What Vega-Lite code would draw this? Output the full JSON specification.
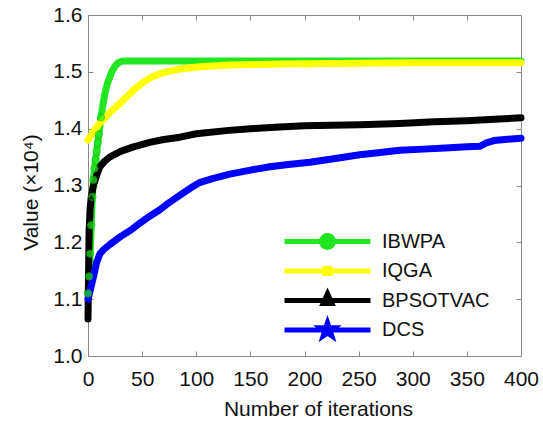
{
  "$schema": "https://vega.github.io/schema/vega-lite/v6.json",
  "width": 433,
  "height": 341,
  "autosize": {"type": "none"},
  "padding": {"left": 88, "top": 15, "right": 22, "bottom": 65},
  "background": "white",
  "config": {
    "font": "Liberation Sans",
    "view": {"stroke": "#8a8a8a", "strokeWidth": 1},
    "axis": {
      "labelFont": "Liberation Sans",
      "labelFontSize": 21,
      "labelColor": "#111",
      "titleFont": "Liberation Sans",
      "titleFontSize": 21,
      "titleFontWeight": "normal",
      "titleColor": "#111",
      "domainColor": "#8a8a8a",
      "tickColor": "#8a8a8a",
      "tickSize": -5,
      "grid": false
    },
    "legend": {
      "orient": "none",
      "legendX": 227,
      "legendY": 214,
      "padding": 0,
      "gridAlign": "all",
      "symbolSize": 400,
      "symbolStrokeWidth": 5,
      "labelFont": "Liberation Sans",
      "labelFontSize": 20,
      "labelColor": "#111",
      "labelOffset": 42,
      "rowPadding": -4.5
    }
  },
  "data": {
    "values": [
      {"s": "IBWPA", "it": 0, "v": 1.11}, {"s": "IBWPA", "it": 1, "v": 1.14}, {"s": "IBWPA", "it": 2, "v": 1.18}, {"s": "IBWPA", "it": 3, "v": 1.23}, {"s": "IBWPA", "it": 4, "v": 1.28}, {"s": "IBWPA", "it": 5, "v": 1.31}, {"s": "IBWPA", "it": 6, "v": 1.33}, {"s": "IBWPA", "it": 7, "v": 1.345}, {"s": "IBWPA", "it": 8, "v": 1.36}, {"s": "IBWPA", "it": 9, "v": 1.375}, {"s": "IBWPA", "it": 10, "v": 1.39}, {"s": "IBWPA", "it": 12, "v": 1.42}, {"s": "IBWPA", "it": 14, "v": 1.445}, {"s": "IBWPA", "it": 16, "v": 1.465}, {"s": "IBWPA", "it": 18, "v": 1.48}, {"s": "IBWPA", "it": 20, "v": 1.49}, {"s": "IBWPA", "it": 22, "v": 1.5}, {"s": "IBWPA", "it": 25, "v": 1.51}, {"s": "IBWPA", "it": 28, "v": 1.516}, {"s": "IBWPA", "it": 32, "v": 1.519}, {"s": "IBWPA", "it": 50, "v": 1.519}, {"s": "IBWPA", "it": 100, "v": 1.519}, {"s": "IBWPA", "it": 200, "v": 1.519}, {"s": "IBWPA", "it": 300, "v": 1.519}, {"s": "IBWPA", "it": 400, "v": 1.519},
      {"s": "IQGA", "it": 0, "v": 1.38}, {"s": "IQGA", "it": 5, "v": 1.395}, {"s": "IQGA", "it": 11, "v": 1.41}, {"s": "IQGA", "it": 15, "v": 1.417}, {"s": "IQGA", "it": 20, "v": 1.428}, {"s": "IQGA", "it": 27, "v": 1.44}, {"s": "IQGA", "it": 35, "v": 1.455}, {"s": "IQGA", "it": 42, "v": 1.468}, {"s": "IQGA", "it": 50, "v": 1.48}, {"s": "IQGA", "it": 57, "v": 1.489}, {"s": "IQGA", "it": 65, "v": 1.496}, {"s": "IQGA", "it": 73, "v": 1.5}, {"s": "IQGA", "it": 85, "v": 1.505}, {"s": "IQGA", "it": 103, "v": 1.509}, {"s": "IQGA", "it": 130, "v": 1.512}, {"s": "IQGA", "it": 180, "v": 1.514}, {"s": "IQGA", "it": 250, "v": 1.515}, {"s": "IQGA", "it": 300, "v": 1.516}, {"s": "IQGA", "it": 400, "v": 1.516},
      {"s": "BPSOTVAC", "it": 0, "v": 1.065}, {"s": "BPSOTVAC", "it": 1, "v": 1.22}, {"s": "BPSOTVAC", "it": 2, "v": 1.26}, {"s": "BPSOTVAC", "it": 3, "v": 1.28}, {"s": "BPSOTVAC", "it": 5, "v": 1.3}, {"s": "BPSOTVAC", "it": 8, "v": 1.318}, {"s": "BPSOTVAC", "it": 11, "v": 1.333}, {"s": "BPSOTVAC", "it": 15, "v": 1.342}, {"s": "BPSOTVAC", "it": 20, "v": 1.35}, {"s": "BPSOTVAC", "it": 30, "v": 1.36}, {"s": "BPSOTVAC", "it": 42, "v": 1.368}, {"s": "BPSOTVAC", "it": 57, "v": 1.376}, {"s": "BPSOTVAC", "it": 70, "v": 1.381}, {"s": "BPSOTVAC", "it": 85, "v": 1.385}, {"s": "BPSOTVAC", "it": 100, "v": 1.391}, {"s": "BPSOTVAC", "it": 130, "v": 1.397}, {"s": "BPSOTVAC", "it": 150, "v": 1.4}, {"s": "BPSOTVAC", "it": 177, "v": 1.403}, {"s": "BPSOTVAC", "it": 200, "v": 1.405}, {"s": "BPSOTVAC", "it": 251, "v": 1.407}, {"s": "BPSOTVAC", "it": 288, "v": 1.409}, {"s": "BPSOTVAC", "it": 320, "v": 1.412}, {"s": "BPSOTVAC", "it": 350, "v": 1.414}, {"s": "BPSOTVAC", "it": 380, "v": 1.417}, {"s": "BPSOTVAC", "it": 400, "v": 1.419},
      {"s": "DCS", "it": 0, "v": 1.1}, {"s": "DCS", "it": 2, "v": 1.115}, {"s": "DCS", "it": 5, "v": 1.139}, {"s": "DCS", "it": 8, "v": 1.165}, {"s": "DCS", "it": 11, "v": 1.18}, {"s": "DCS", "it": 15, "v": 1.188}, {"s": "DCS", "it": 20, "v": 1.196}, {"s": "DCS", "it": 30, "v": 1.21}, {"s": "DCS", "it": 40, "v": 1.222}, {"s": "DCS", "it": 48, "v": 1.234}, {"s": "DCS", "it": 57, "v": 1.246}, {"s": "DCS", "it": 66, "v": 1.257}, {"s": "DCS", "it": 75, "v": 1.27}, {"s": "DCS", "it": 85, "v": 1.283}, {"s": "DCS", "it": 95, "v": 1.296}, {"s": "DCS", "it": 103, "v": 1.305}, {"s": "DCS", "it": 115, "v": 1.312}, {"s": "DCS", "it": 131, "v": 1.32}, {"s": "DCS", "it": 150, "v": 1.327}, {"s": "DCS", "it": 168, "v": 1.333}, {"s": "DCS", "it": 185, "v": 1.337}, {"s": "DCS", "it": 205, "v": 1.341}, {"s": "DCS", "it": 230, "v": 1.348}, {"s": "DCS", "it": 251, "v": 1.354}, {"s": "DCS", "it": 270, "v": 1.358}, {"s": "DCS", "it": 288, "v": 1.362}, {"s": "DCS", "it": 310, "v": 1.364}, {"s": "DCS", "it": 330, "v": 1.366}, {"s": "DCS", "it": 350, "v": 1.368}, {"s": "DCS", "it": 362, "v": 1.369}, {"s": "DCS", "it": 368, "v": 1.375}, {"s": "DCS", "it": 375, "v": 1.379}, {"s": "DCS", "it": 385, "v": 1.381}, {"s": "DCS", "it": 400, "v": 1.383}
    ]
  },
  "resolve": {"axis": {"x": "independent", "y": "independent"}},
  "layer": [
    {
      "mark": {"type": "line", "strokeWidth": 7, "strokeJoin": "round", "strokeCap": "round"},
      "encoding": {
        "x": {"field": "it", "type": "quantitative", "scale": {"domain": [0, 400], "nice": false},
              "axis": {"values": [0, 50, 100, 150, 200, 250, 300, 350, 400], "title": "Number of iterations", "labelPadding": 17, "titleX": 230, "titleY": 59, "titleBaseline": "alphabetic", "titleAnchor": "middle", "labelFlush": false}},
        "y": {"field": "v", "type": "quantitative", "scale": {"domain": [1.0, 1.6], "nice": false, "zero": false},
              "axis": {"values": [1.0, 1.1, 1.2, 1.3, 1.4, 1.5, 1.6], "format": ".1f", "title": "Value (×10⁴)", "labelPadding": 11, "titleX": -51, "titleY": 177, "titleBaseline": "alphabetic", "titleAnchor": "middle", "labelFlush": false}},
        "color": {"field": "s", "type": "nominal",
                  "scale": {"domain": ["IBWPA", "IQGA", "BPSOTVAC", "DCS"], "range": ["#22e622", "#ffff00", "#000000", "#0000ff"]},
                  "legend": {
                    "title": null,
                    "encode": {"symbols": {"update": {
                      "shape": {"signal": "datum.value === 'IBWPA' ? 'M-4.3,0H4.3M-0.6,0A0.6,0.6 0 1,0 0.6,0A0.6,0.6 0 1,0 -0.6,0Z' : datum.value === 'IQGA' ? 'M-4.3,0H4.3M-0.25,-0.25H0.25V0.25H-0.25Z' : datum.value === 'BPSOTVAC' ? 'M-4.3,0H4.3M0,-0.7L0.45,0.3H-0.45Z' : 'M-4.3,0H4.3M0,-0.75L0.176,-0.243L0.713,-0.232L0.285,0.093L0.441,0.607L0,0.3L-0.441,0.607L-0.285,0.093L-0.713,-0.232L-0.176,-0.243Z'"},
                      "stroke": {"scale": "color", "field": "value"},
                      "fill": {"scale": "color", "field": "value"},
                      "strokeWidth": {"value": 5},
                      "opacity": {"value": 1},
                      "size": {"value": 400}
                    }}}
                  }},
        "order": {"field": "it", "type": "quantitative"}
      }
    },
    {
      "transform": [{"filter": "datum.s === 'IBWPA' && datum.it <= 12"}],
      "mark": {"type": "point", "shape": "circle", "filled": true, "size": 55, "color": "#22e622", "stroke": "#18b818", "strokeWidth": 1},
      "encoding": {
        "x": {"field": "it", "type": "quantitative", "axis": null},
        "y": {"field": "v", "type": "quantitative", "axis": null}
      }
    },
    {
      "transform": [{"filter": "datum.s === 'BPSOTVAC' && datum.it <= 3"}],
      "mark": {"type": "point", "shape": "triangle-up", "filled": true, "size": 40, "color": "#000000"},
      "encoding": {
        "x": {"field": "it", "type": "quantitative", "axis": null},
        "y": {"field": "v", "type": "quantitative", "axis": null}
      }
    },
    {
      "mark": {"type": "point", "opacity": 0},
      "encoding": {
        "x": {"field": "it", "type": "quantitative",
              "axis": {"orient": "top", "values": [0, 50, 100, 150, 200, 250, 300, 350, 400], "labels": false, "title": null, "domain": false}},
        "y": {"field": "v", "type": "quantitative",
              "axis": {"orient": "right", "values": [1.0, 1.1, 1.2, 1.3, 1.4, 1.5, 1.6], "labels": false, "title": null, "domain": false}}
      }
    }
  ]
}
